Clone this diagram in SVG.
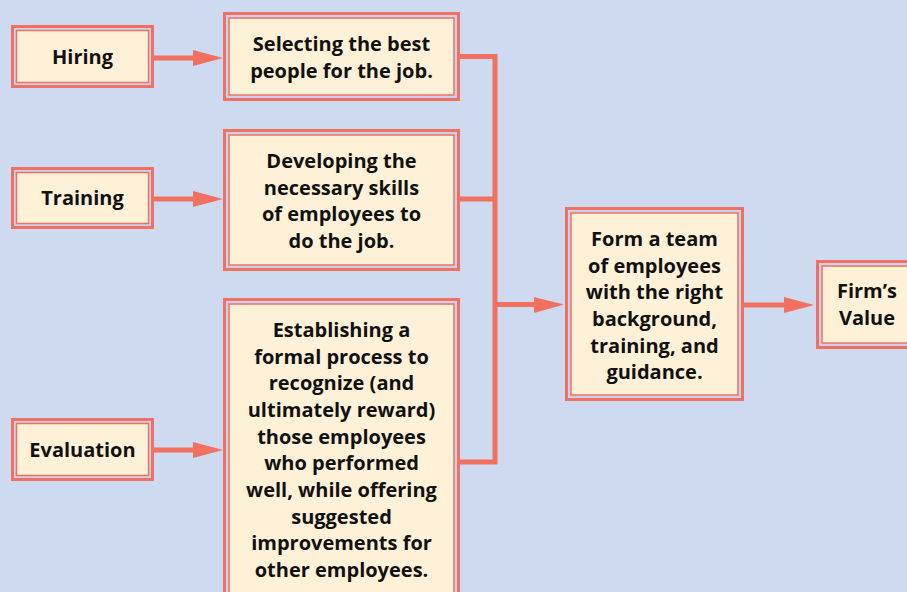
<svg xmlns="http://www.w3.org/2000/svg" width="907" height="592" viewBox="0 0 907 592">
<style>
.bg{fill:#CDDAF0}
.o{fill:#C9D1F0;stroke:#F2705F;stroke-width:3}
.i{fill:#FFF1D7;stroke:#F2705F;stroke-width:1.5}
.t{font-family:"Open Sans","Liberation Sans",sans-serif;font-weight:700;font-size:20px;fill:#111;text-anchor:middle}
.c{stroke:#F2705F;stroke-width:5;fill:none}
.h{fill:#F2705F}
</style>
<rect class="bg" x="0" y="0" width="907" height="592"/>
<g id="connectors">
<line class="c" x1="154" y1="58" x2="196" y2="58"/>
<polygon class="h" points="193,50 223,58 193,66"/>
<line class="c" x1="154" y1="199" x2="196" y2="199"/>
<polygon class="h" points="193,191 223,199 193,207"/>
<line class="c" x1="154" y1="450" x2="196" y2="450"/>
<polygon class="h" points="193,442 223,450 193,458"/>
<polyline class="c" points="460,56.5 495,56.5 495,462 460,462"/>
<line class="c" x1="460" y1="199" x2="495" y2="199"/>
<line class="c" x1="495" y1="304.5" x2="537" y2="304.5"/>
<polygon class="h" points="534,297 564,304.5 534,313"/>
<line class="c" x1="744" y1="305" x2="787" y2="305"/>
<polygon class="h" points="784,297 814,305 784,313"/>
</g>
<g id="hiring">
<rect class="o" x="12.5" y="26.5" width="140" height="60"/>
<rect class="i" x="16.5" y="30.5" width="132" height="52"/>
<text class="t" x="82.5" y="64">Hiring</text>
</g>
<g id="training">
<rect class="o" x="12.5" y="168.5" width="140" height="59"/>
<rect class="i" x="16.5" y="172.5" width="132" height="51"/>
<text class="t" x="82.5" y="205">Training</text>
</g>
<g id="evaluation">
<rect class="o" x="12.5" y="419.5" width="140" height="60"/>
<rect class="i" x="16.5" y="423.5" width="132" height="52"/>
<text class="t" x="82.5" y="457">Evaluation</text>
</g>
<g id="selecting">
<rect class="o" x="224.5" y="13.5" width="234" height="86"/>
<rect class="i" x="229" y="18" width="225" height="77"/>
<text class="t" x="341.5" y="51">Selecting the best</text>
<text class="t" x="341.5" y="78">people for the job.</text>
</g>
<g id="developing">
<rect class="o" x="224.5" y="130.5" width="234" height="139"/>
<rect class="i" x="229" y="135" width="225" height="130"/>
<text class="t" x="341.5" y="168">Developing the</text>
<text class="t" x="341.5" y="195">necessary skills</text>
<text class="t" x="341.5" y="221">of employees to</text>
<text class="t" x="341.5" y="248">do the job.</text>
</g>
<g id="establishing">
<rect class="o" x="224.5" y="299.5" width="234" height="320"/>
<rect class="i" x="229" y="304" width="225" height="310"/>
<text class="t" x="341.5" y="337">Establishing a</text>
<text class="t" x="341.5" y="363.5">formal process to</text>
<text class="t" x="341.5" y="390">recognize (and</text>
<text class="t" x="341.5" y="417">ultimately reward)</text>
<text class="t" x="341.5" y="443.5">those employees</text>
<text class="t" x="341.5" y="470">who performed</text>
<text class="t" x="341.5" y="497">well, while offering</text>
<text class="t" x="341.5" y="523.5">suggested</text>
<text class="t" x="341.5" y="550">improvements for</text>
<text class="t" x="341.5" y="577">other employees.</text>
</g>
<g id="form">
<rect class="o" x="566.5" y="208.5" width="176" height="191"/>
<rect class="i" x="571" y="213" width="167" height="182"/>
<text class="t" x="654.5" y="246">Form a team</text>
<text class="t" x="654.5" y="273">of employees</text>
<text class="t" x="654.5" y="299">with the right</text>
<text class="t" x="654.5" y="326">background,</text>
<text class="t" x="654.5" y="353">training, and</text>
<text class="t" x="654.5" y="379">guidance.</text>
</g>
<g id="firms-value">
<rect class="o" x="817.5" y="261.5" width="110" height="86"/>
<rect class="i" x="822" y="266" width="101" height="77"/>
<text class="t" x="867" y="298">Firm’s</text>
<text class="t" x="867" y="325">Value</text>
</g>
</svg>
